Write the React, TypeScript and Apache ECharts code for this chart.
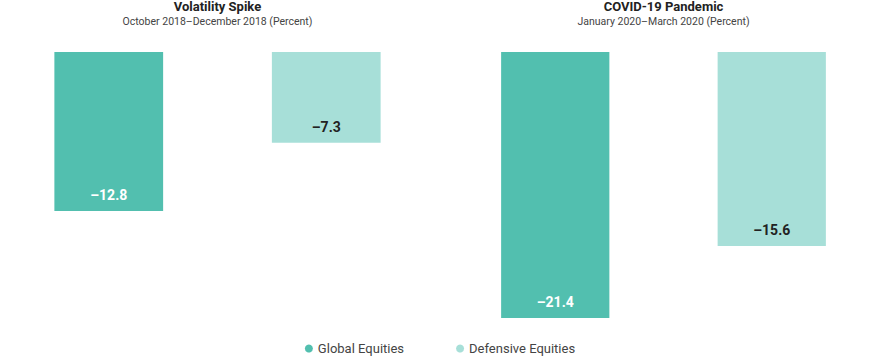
import React, { useEffect, useRef } from "react";
import * as echarts from "echarts";

const categories = ["Global Equities", "Defensive Equities"];
const panelTitles = ["Volatility Spike", "COVID-19 Pandemic"];
const panelSubtitles = [
  "October 2018–December 2018 (Percent)",
  "January 2020–March 2020 (Percent)",
];
const globalValues = [-12.8, -21.4];
const defensiveValues = [-7.3, -15.6];

const GLOBAL_COLOR = "#52BFAF";
const DEFENSIVE_COLOR = "#A7DFD8";
const FONT = "Roboto, 'Open Sans', sans-serif";

const fmt = (p: any) => {
  const v = typeof p.value === "number" ? p.value : Number(p.value);
  return (v < 0 ? "–" : "") + Math.abs(v).toFixed(1);
};

export default function App() {
  const ref = useRef<HTMLDivElement>(null);
  useEffect(() => {
    if (!ref.current) return;
    const chart = echarts.init(ref.current, undefined, { renderer: "svg" });
    const grids = [
      { left: 0, width: 435, top: 52, bottom: 41 },
      { left: 447, width: 433, top: 52, bottom: 41 },
    ];
    const centers = [217.5, 663.5];
    const minVal = Math.min(...globalValues, ...defensiveValues);
    const series: any[] = [];
    panelTitles.forEach((_, i) => {
      series.push({
        name: categories[0],
        type: "bar",
        xAxisIndex: i,
        yAxisIndex: i,
        barWidth: "50%",
        barGap: "-100%",
        itemStyle: { color: GLOBAL_COLOR },
        data: [globalValues[i], null],
        label: {
          show: true,
          position: "insideBottom",
          distance: 9,
          color: "#ffffff",
          fontFamily: FONT,
          fontWeight: "bold",
          fontSize: 14,
          formatter: fmt,
        },
      });
      series.push({
        name: categories[1],
        type: "bar",
        xAxisIndex: i,
        yAxisIndex: i,
        barWidth: "50%",
        barGap: "-100%",
        itemStyle: { color: DEFENSIVE_COLOR },
        data: [null, defensiveValues[i]],
        label: {
          show: true,
          position: "insideBottom",
          distance: 9,
          color: "#222222",
          fontFamily: FONT,
          fontWeight: "bold",
          fontSize: 14,
          formatter: fmt,
        },
      });
    });
    chart.setOption({
      animation: false,
      title: panelTitles.map((t, i) => ({
        text: t,
        subtext: panelSubtitles[i],
        left: centers[i],
        top: 0,
        textAlign: "center",
        itemGap: 3,
        padding: 0,
        textStyle: {
          fontFamily: FONT,
          fontSize: 13,
          fontWeight: "bold",
          color: "#222222",
        },
        subtextStyle: {
          fontFamily: FONT,
          fontSize: 10.5,
          color: "#444444",
        },
      })),
      legend: {
        bottom: 4,
        padding: 0,
        left: "center",
        icon: "circle",
        itemWidth: 8,
        itemHeight: 8,
        itemGap: 52,
        data: categories,
        textStyle: { fontFamily: FONT, fontSize: 13, color: "#444444" },
      },
      grid: grids,
      xAxis: grids.map((_, i) => ({
        type: "category",
        gridIndex: i,
        data: categories,
        show: false,
      })),
      yAxis: grids.map((_, i) => ({
        type: "value",
        gridIndex: i,
        min: minVal,
        max: 0,
        show: false,
        splitLine: { show: false },
      })),
      series,
    });
    return () => chart.dispose();
  }, []);
  return (
    <div
      ref={ref}
      style={{ position: "fixed", left: 0, top: 0, width: 880, height: 359, background: "#fff" }}
    />
  );
}
